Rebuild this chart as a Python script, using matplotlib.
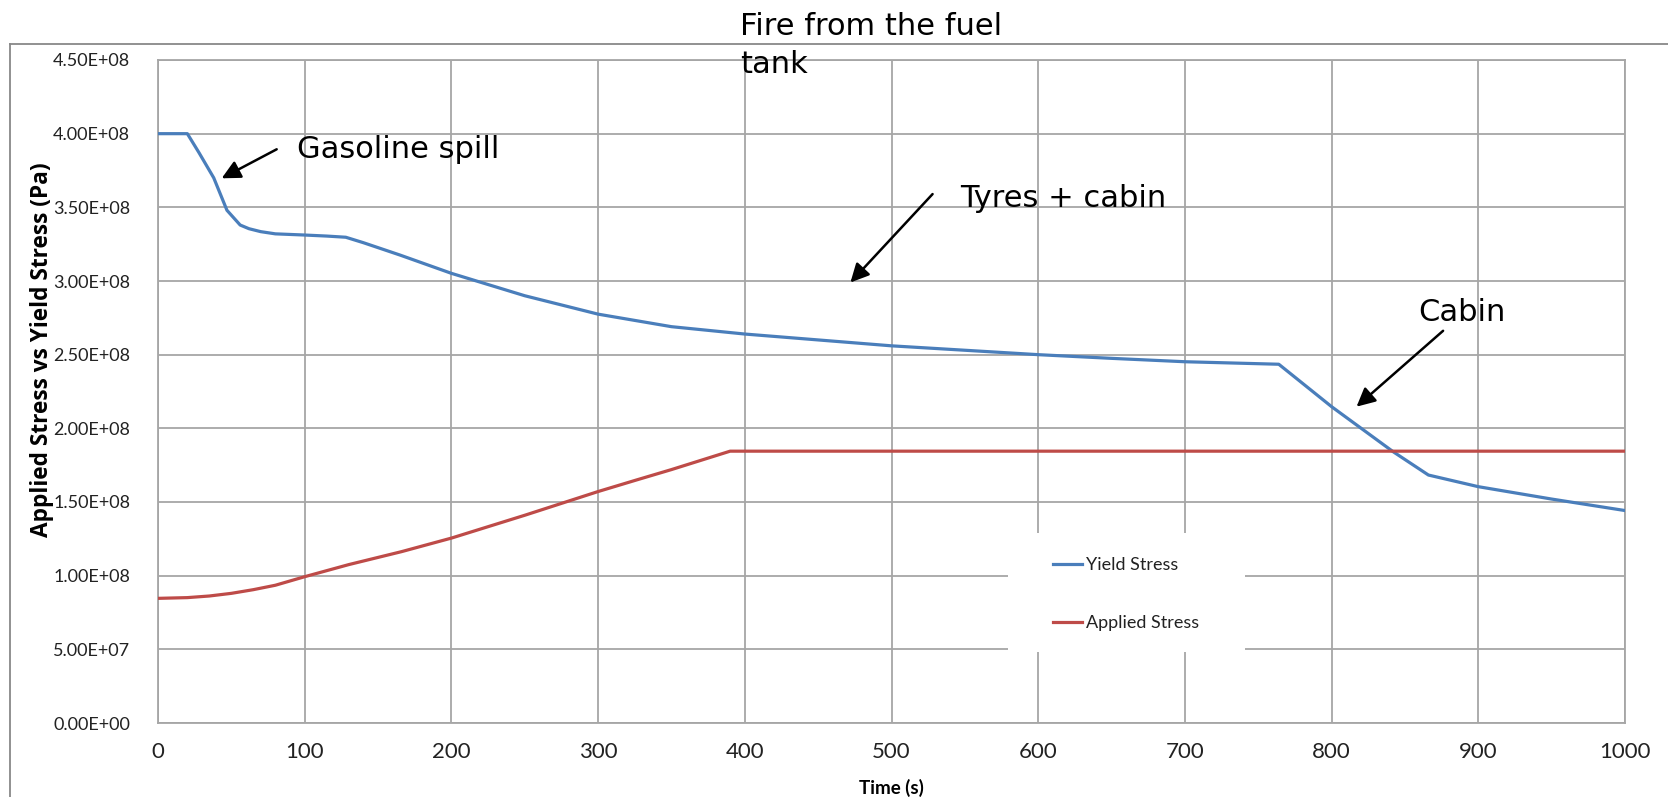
import matplotlib
matplotlib.use("Agg")
import matplotlib.pyplot as plt
from matplotlib.lines import Line2D
from matplotlib.patches import Rectangle

# ---- data ----
yield_t = [0, 20, 28, 38, 47, 56, 62, 70, 80, 100, 115, 128, 140, 165, 200, 250, 290,
           300, 350, 400, 450, 500, 550, 600, 650, 700, 764, 800, 842, 866, 900, 950, 1000]
yield_v = [4.00e8, 4.00e8, 3.87e8, 3.70e8, 3.48e8, 3.38e8, 3.355e8, 3.335e8, 3.32e8, 3.312e8,
           3.305e8, 3.297e8, 3.26e8, 3.176e8, 3.052e8, 2.90e8, 2.80e8, 2.775e8, 2.69e8,
           2.64e8, 2.60e8, 2.56e8, 2.53e8, 2.50e8, 2.475e8, 2.452e8, 2.435e8, 2.147e8,
           1.841e8, 1.683e8, 1.604e8, 1.52e8, 1.442e8]

applied_t = [0, 20, 35, 50, 65, 80, 100, 130, 166, 200, 250, 300, 326, 350, 390, 1000]
applied_v = [0.846e8, 0.851e8, 0.862e8, 0.880e8, 0.905e8, 0.935e8, 0.993e8, 1.075e8, 1.163e8,
             1.255e8, 1.41e8, 1.571e8, 1.649e8, 1.72e8, 1.845e8, 1.845e8]

x_ticks = [0, 100, 200, 300, 400, 500, 600, 700, 800, 900, 1000]
y_ticks = [0, 0.5e8, 1.0e8, 1.5e8, 2.0e8, 2.5e8, 3.0e8, 3.5e8, 4.0e8, 4.5e8]
y_tick_labels = ["0.00E+00", "5.00E+07", "1.00E+08", "1.50E+08", "2.00E+08",
                 "2.50E+08", "3.00E+08", "3.50E+08", "4.00E+08", "4.50E+08"]

BLUE = "#4A7EBB"
RED = "#BE4B48"
GRID = "#A6A6A6"

W, H = 1668, 797
fig = plt.figure(figsize=(W / 100, H / 100), dpi=100)
ax = fig.add_axes([158 / W, 1 - 723 / H, (1625 - 158) / W, (723 - 60) / H])

ax.plot(yield_t, yield_v, color=BLUE, lw=2.3, label="Yield Stress", zorder=4, solid_joinstyle="round")
ax.plot(applied_t, applied_v, color=RED, lw=2.3, label="Applied Stress", zorder=4, solid_joinstyle="round")

ax.set_xlim(0, 1000)
ax.set_ylim(0, 4.5e8)
ax.set_xticks(x_ticks)
ax.set_xticklabels([str(v) for v in x_ticks], fontsize=16, family="Lato")
ax.set_yticks(y_ticks)
ax.set_yticklabels(y_tick_labels, fontsize=13, family="Lato")
ax.tick_params(axis="both", length=0, colors="#222222")
ax.tick_params(axis="x", pad=14)
ax.tick_params(axis="y", pad=20)
ax.grid(True, color=GRID, lw=1.3)
ax.set_axisbelow(True)
for s in ax.spines.values():
    s.set_color(GRID)
    s.set_linewidth(1.3)

# axis labels
fig.text(891 / W, 1 - 794 / H, "Time (s)", ha="center", va="baseline",
         fontsize=13.5, fontweight="bold", family="Lato")
fig.text(42 / W, 1 - 350 / H, "Applied Stress vs Yield Stress (Pa)", ha="center", va="center",
         rotation=90, fontsize=16.3, fontweight="bold", family="Open Sans")

# legend box (white, covers gridlines)
ax.add_patch(Rectangle((1008 / W, 1 - 652 / H), (1245 - 1008) / W, (652 - 533) / H,
                       transform=fig.transFigure, facecolor="white", edgecolor="none",
                       zorder=3, clip_on=False))
leg = fig.legend(loc="upper left", bbox_to_anchor=(1044 / W, 1 - 548 / H), frameon=False,
                 prop={"family": "Lato", "size": 13}, handlelength=1.6, handletextpad=0.2,
                 labelspacing=2.35, borderpad=0)
for t in leg.get_texts():
    t.set_color("#222222")

# annotations
arrow = dict(arrowstyle="-|>", color="black", lw=1.8, mutation_scale=28, shrinkA=0, shrinkB=0)
afont = dict(fontsize=22, family="DejaVu Sans", color="black")
ax.annotate("", xy=(43.4, 3.697e8), xytext=(80.9, 3.894e8), arrowprops=arrow, zorder=5)
ax.text(94.5, 3.835e8, "Gasoline spill", va="baseline", ha="left", **afont)

ax.annotate("", xy=(472, 2.99e8), xytext=(528, 3.59e8), arrowprops=arrow, zorder=5)
ax.text(547, 3.50e8, "Tyres + cabin", va="baseline", ha="left", **afont)

ax.annotate("", xy=(817, 2.147e8), xytext=(876, 2.662e8), arrowprops=arrow, zorder=5)
ax.text(859, 2.726e8, "Cabin", va="baseline", ha="left", **afont)

fig.text(740 / W, 1 - 12 / H, "Fire from the fuel\ntank", va="top", ha="left",
         linespacing=1.4, zorder=6, **afont)

# outer chart frame (left and top edges)
fig.add_artist(Line2D([10 / W, 10 / W], [0, 1 - 44 / H], transform=fig.transFigure,
                      color="#888888", lw=1.3))
fig.add_artist(Line2D([10 / W, 1], [1 - 44 / H, 1 - 44 / H], transform=fig.transFigure,
                      color="#888888", lw=1.3))

fig.savefig("out.png", dpi=100)
